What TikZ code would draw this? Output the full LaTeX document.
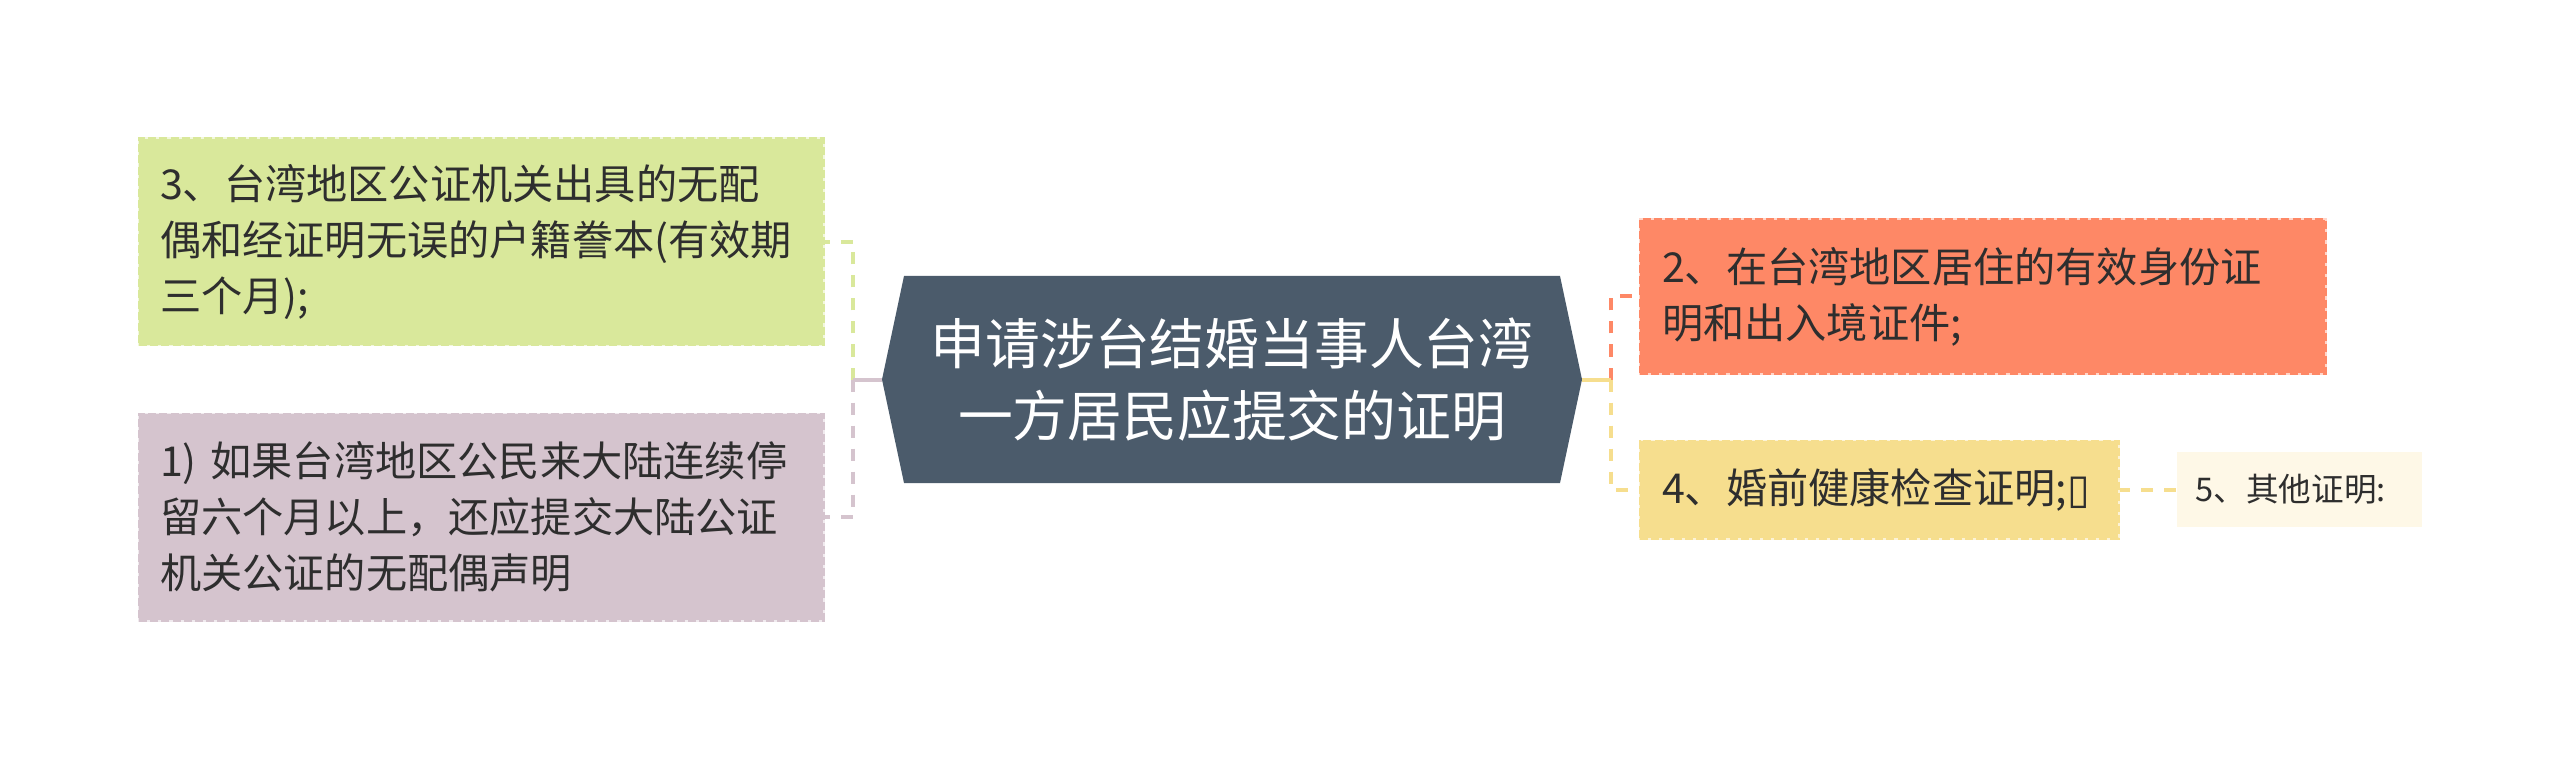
\documentclass[tikz,border=0pt]{standalone}
\usepackage{fontspec}
\setmainfont{Noto Sans CJK SC}
\newfontfamily\symfont{DejaVu Sans}
\usetikzlibrary{backgrounds}
\definecolor{cgreen}{HTML}{D9E89B}
\definecolor{cpink}{HTML}{D5C4CE}
\definecolor{chex}{HTML}{4B5B6B}
\definecolor{cred}{HTML}{FE8866}
\definecolor{cyellow}{HTML}{F6DE8E}
\definecolor{clight}{HTML}{FEF8E7}
\definecolor{ctext}{HTML}{2E2E2E}
\begin{document}
\begin{tikzpicture}[x=0.5pt,y=-0.5pt,
  box/.style={rectangle, inner sep=0pt, outer sep=0pt, align=left, text=ctext,
    font=\fontsize{20.6pt}{28pt}\selectfont, line width=1.5pt},
  tone/.style={fill=#1, draw=#1, dash pattern=on 4pt off 1.6pt,
    preaction={draw=#1!35!white, solid, line width=1.5pt}},
  hexnode/.style={rectangle, inner sep=0pt, outer sep=0pt, align=center, text=white,
    font=\fontsize{27.4pt}{36pt}\selectfont, minimum width=350pt, minimum height=103.5pt},
  link/.style={line width=2pt, dash pattern=on 6pt off 5.5pt},
  stem/.style={line width=2pt}]
\useasboundingbox (0,0) rectangle (2560,759);

\node[hexnode] (c) at (1232,379.5) {申请涉台结婚当事人台湾\\一方居民应提交的证明};

\node[box, tone=cgreen, minimum width=342pt, minimum height=103pt, text width=321pt] (g) at (481,242)
  {3、台湾地区公证机关出具的无配\\偶和经证明无误的户籍誊本(有效期\\三个月);};
\node[box, tone=cpink, minimum width=342pt, minimum height=103pt, text width=321pt] (p) at (481,517)
  {1) 如果台湾地区公民来大陆连续停\\留六个月以上，还应提交大陆公证\\机关公证的无配偶声明};
\node[box, tone=cred, minimum width=342.5pt, minimum height=76.5pt, text width=320.5pt] (r) at (1982.5,296.5)
  {2、在台湾地区居住的有效身份证\\明和出入境证件;};
\node[box, tone=cyellow, minimum width=239pt, minimum height=48.5pt, text width=217pt] (y) at (1879,489.5)
  {4、婚前健康检查证明;{\symfont ▯}};
\node[box, fill=clight, draw=none, minimum width=122.5pt, minimum height=37.5pt, text width=104pt,
  font=\fontsize{16.3pt}{20pt}\selectfont] (l) at (2299.5,489.5) {5、其他证明:};

\coordinate (jl) at (853,379.5);
\coordinate (jr) at (1611,379.5);

\begin{pgfonlayer}{background}
\fill[white] (0,0) rectangle (2560,759);
\fill[chex] ([xshift=11pt]c.north west) -- ([xshift=-11pt]c.north east) -- (c.east)
  -- ([xshift=-11pt]c.south east) -- ([xshift=11pt]c.south west) -- (c.west) -- cycle;
\draw[link, cgreen] (jl) |- (g.east);
\draw[link, cpink] (jl) |- (p.east);
\draw[stem, cpink] (c.west) -- (jl);
\draw[link, cred] (jr) |- (r.west);
\draw[link, cyellow] (jr) |- (y.west);
\draw[stem, cyellow] (c.east) -- (jr);
\draw[link, cyellow] (y.east) -- (l.west);
\end{pgfonlayer}
\end{tikzpicture}
\end{document}
